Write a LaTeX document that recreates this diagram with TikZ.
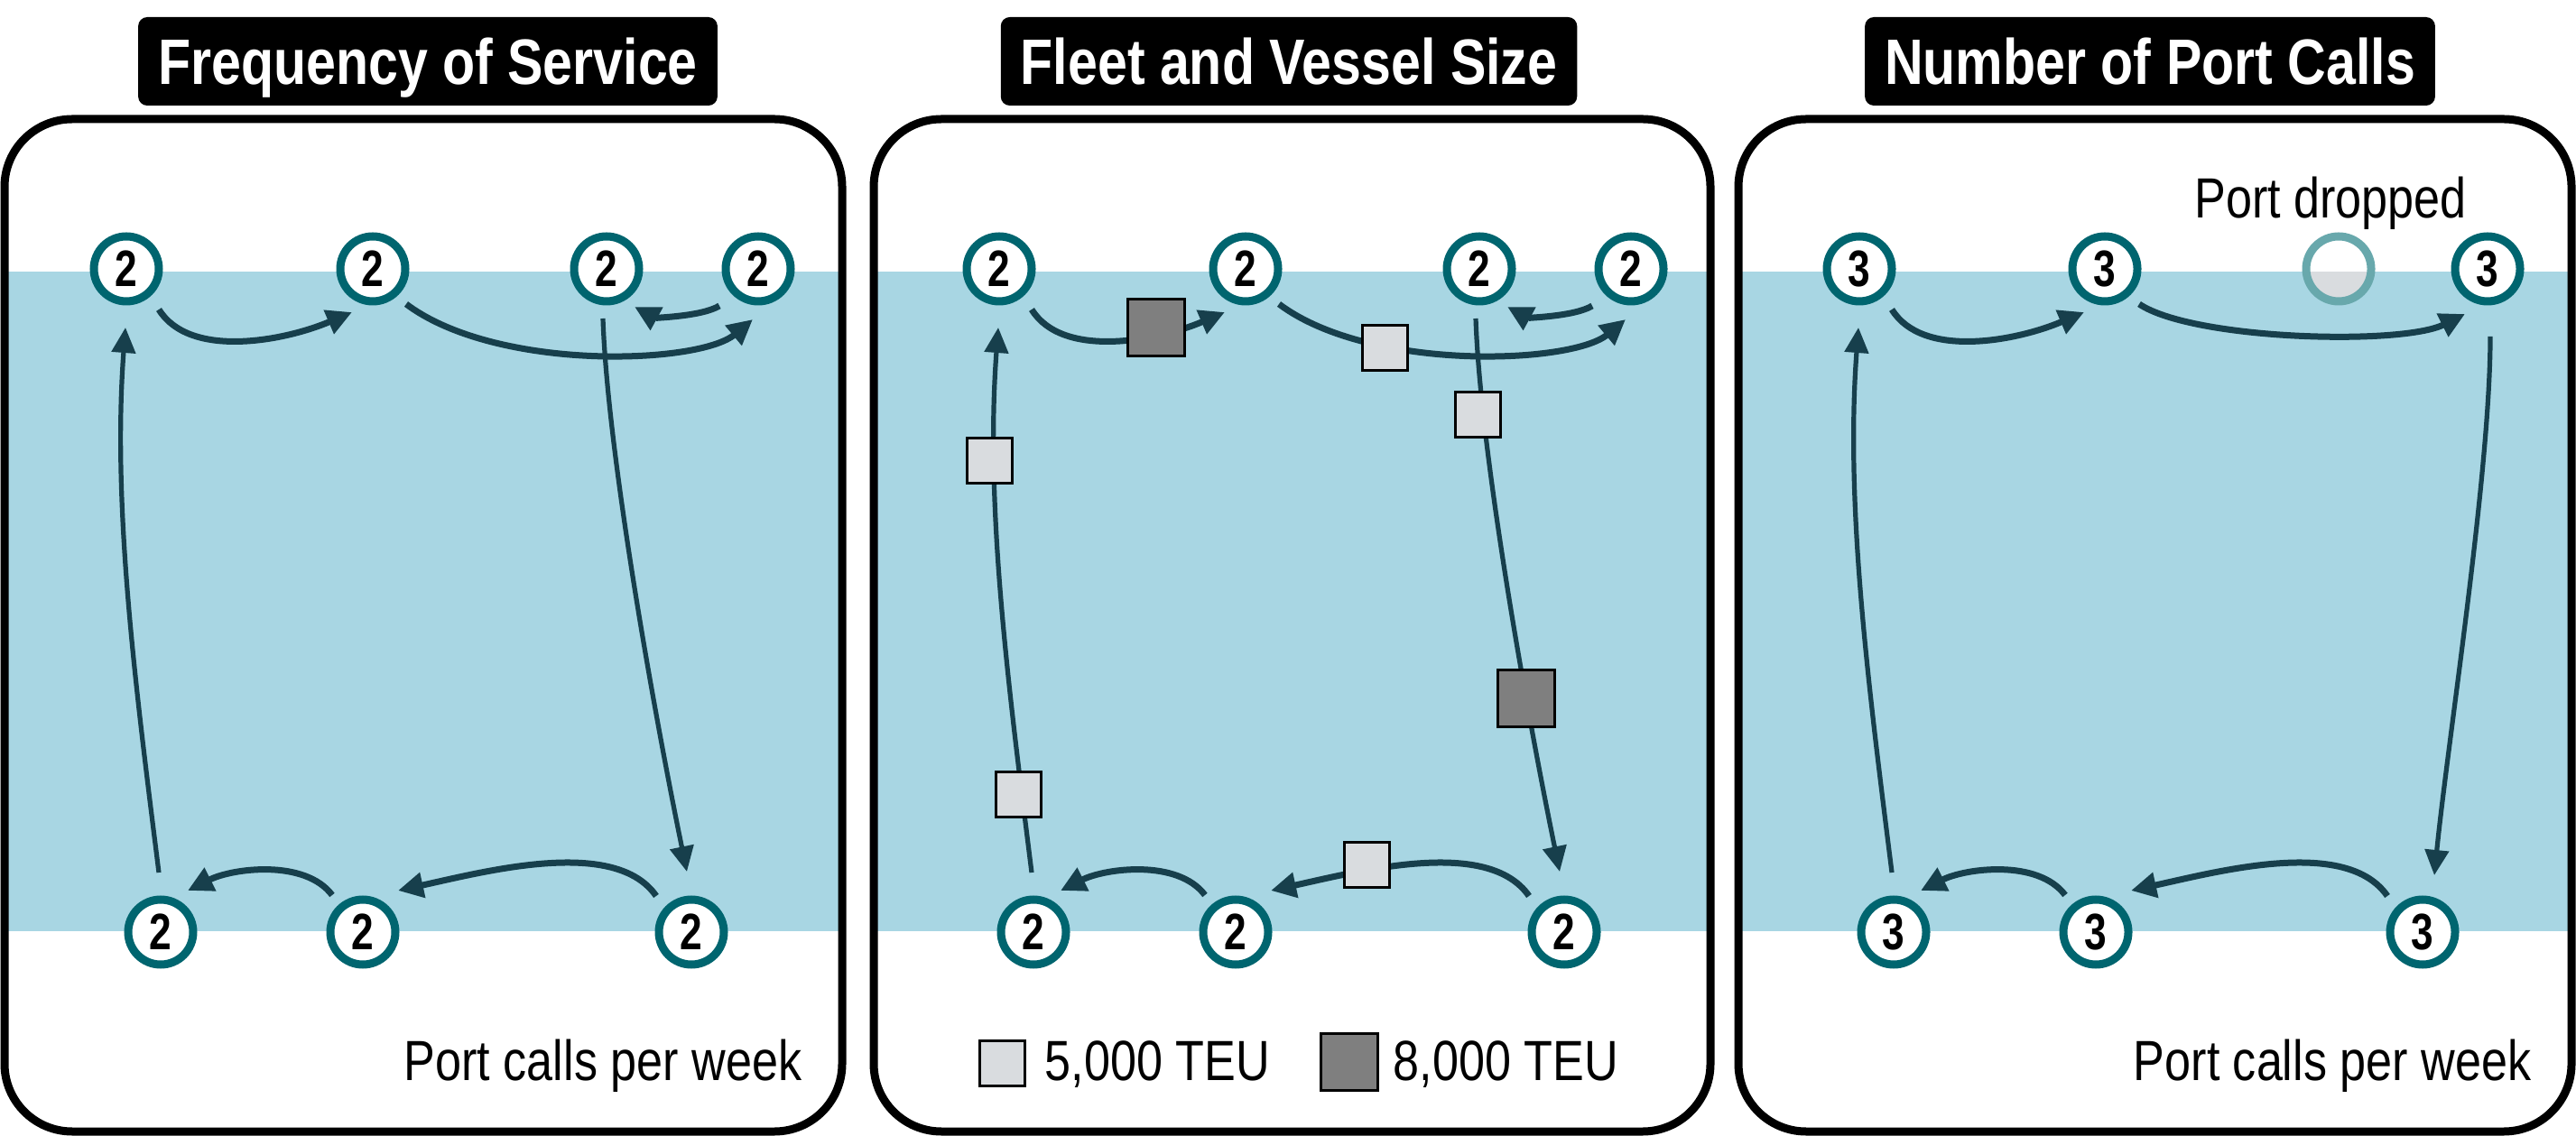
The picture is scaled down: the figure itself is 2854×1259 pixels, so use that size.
\documentclass[tikz,border=0pt]{standalone}
\usepackage{fontspec}
\setmainfont{Liberation Sans}[FakeStretch=0.83]
\newfontfamily\digitfont{Liberation Sans}[FakeStretch=0.78]
\usetikzlibrary{arrows.meta,calc}
\definecolor{band}{RGB}{168,214,227}
\definecolor{ring}{RGB}{0,101,111}
\definecolor{arrowc}{RGB}{23,63,76}
\definecolor{dropring}{RGB}{104,168,172}
\definecolor{lightsq}{RGB}{217,220,223}
\definecolor{darksq}{RGB}{127,127,127}
\begin{document}
\begin{tikzpicture}[x=0.25pt,y=-0.25pt,
  panel/.style={draw=black,line width=2.25pt,rounded corners=18.75pt},
  titlebox/.style={fill=black,text=white,rounded corners=2.5pt,font=\bfseries\fontsize{17.8}{20}\selectfont,minimum height=24.5pt,inner xsep=5.5pt,inner ysep=0pt,text height=12.75pt,text depth=0pt},
  port/.style={circle,draw=ring,line width=2.25pt,fill=white,minimum size=18pt,inner sep=0pt,font=\digitfont\bfseries\fontsize{14.2}{14}\selectfont},
  dropped/.style={circle,draw=dropring,line width=2.25pt,minimum size=18pt,inner sep=0pt},
  flow/.style={draw=arrowc,line width=1.75pt,-{Triangle[length=7pt,width=6.8pt]}},
  leg/.style={draw=arrowc,line width=1.3pt,-{Triangle[length=7pt,width=6.5pt]}},
  lbl/.style={font=\fontsize{15.7}{18}\selectfont,inner sep=0pt},
  sqlight/.style={draw=black,line width=0.75pt,fill=lightsq,minimum size=12.5pt,inner sep=0pt},
  sqdark/.style={draw=black,line width=0.75pt,fill=darksq,minimum size=15.75pt,inner sep=0pt},
]
\useasboundingbox (0,0) rectangle (2854,1259);
% panels
\foreach \L/\R in {5/933,968/1895,1926/2849}{
  \begin{scope}
    \clip[rounded corners=18.75pt] (\L,132) rectangle (\R,1254);
    \fill[band] (\L,301) rectangle (\R,1032);
  \end{scope}
  \draw[panel] (\L,132) rectangle (\R,1254);
}
% titles
\node[titlebox] (t1) at (474,68) {Frequency of Service};
\node[titlebox] (t2) at (1428,68) {Fleet and Vessel Size};
\node[titlebox] (t3) at (2382,68) {Number of Port Calls};

% ---------------- panel 1
\node[port] (p1t1) at (140,298) {2};
\node[port] (p1t2) at (413,298) {2};
\node[port] (p1t3) at (672,298) {2};
\node[port] (p1t4) at (840,298) {2};
\node[port] (p1b1) at (178,1033) {2};
\node[port] (p1b2) at (402,1033) {2};
\node[port] (p1b3) at (766,1033) {2};
\draw[flow] ($(p1t1)+(36,45)$) .. controls +(34,55) and +(-75,32) .. ($(p1t2)+(-23,48)$);
\draw[flow] ($(p1t2)+(37,39)$) .. controls +(100,75) and +(-60,50) .. ($(p1t4)+(-6,56)$);
\draw[flow] ($(p1t4)+(-43,41)$) .. controls +(-20,12) and +(22,12) .. ($(p1t3)+(31,42)$);
\draw[leg] ($(p1t3)+(-4,55)$) .. controls +(5,150) and +(-35,-170) .. ($(p1b3)+(-5,-67)$);
\draw[flow] ($(p1b3)+(-39,-40)$) .. controls +(-45,-65) and +(100,-22) .. ($(p1b2)+(39,-46)$);
\draw[flow] ($(p1b2)+(-34,-41)$) .. controls +(-30,-40) and +(50,-25) .. ($(p1b1)+(30,-46)$);
\draw[leg] ($(p1b1)+(-2,-66)$) .. controls +(-25,-200) and +(-15,200) .. ($(p1t1)+(-1,65)$);
\node[lbl,anchor=base east] (cap1) at (889,1197) {Port calls per week};

% ---------------- panel 2
\node[port] (p2t1) at (1107,298) {2};
\node[port] (p2t2) at (1380,298) {2};
\node[port] (p2t3) at (1639,298) {2};
\node[port] (p2t4) at (1807,298) {2};
\node[port] (p2b1) at (1145,1033) {2};
\node[port] (p2b2) at (1369,1033) {2};
\node[port] (p2b3) at (1733,1033) {2};
\draw[flow] ($(p2t1)+(36,45)$) .. controls +(34,55) and +(-75,32) .. ($(p2t2)+(-23,48)$);
\draw[flow] ($(p2t2)+(37,39)$) .. controls +(100,75) and +(-60,50) .. ($(p2t4)+(-6,56)$);
\draw[flow] ($(p2t4)+(-43,41)$) .. controls +(-20,12) and +(22,12) .. ($(p2t3)+(31,42)$);
\draw[leg] ($(p2t3)+(-4,55)$) .. controls +(5,150) and +(-35,-170) .. ($(p2b3)+(-5,-67)$);
\draw[flow] ($(p2b3)+(-39,-40)$) .. controls +(-45,-65) and +(100,-22) .. ($(p2b2)+(39,-46)$);
\draw[flow] ($(p2b2)+(-34,-41)$) .. controls +(-30,-40) and +(50,-25) .. ($(p2b1)+(30,-46)$);
\draw[leg] ($(p2b1)+(-2,-66)$) .. controls +(-25,-200) and +(-15,200) .. ($(p2t1)+(-1,65)$);
\node[sqdark] (s1) at (1281,363) {};
\node[sqlight] (s2) at (1534,386) {};
\node[sqlight] (s3) at (1637,460) {};
\node[sqlight] (s4) at (1096,511) {};
\node[sqlight] (s5) at (1128,880) {};
\node[sqdark] (s6) at (1691,774) {};
\node[sqlight] (s7) at (1514,958) {};
\node[sqlight] (lg1) at (1110,1178) {};
\node[lbl,anchor=base west] (lt1) at (1157,1197) {5,000 TEU};
\node[sqdark] (lg2) at (1495,1177) {};
\node[lbl,anchor=base west] (lt2) at (1543,1197) {8,000 TEU};

% ---------------- panel 3
\node[port] (p3t1) at (2060,298) {3};
\node[port] (p3t2) at (2332,298) {3};
\fill[white] (2591,298) circle[radius=36];
\begin{scope}
  \clip (2591,298) circle[radius=36];
  \fill[lightsq] (2540,301) rectangle (2640,345);
\end{scope}
\node[dropped] (p3t3) at (2591,298) {};
\node[port] (p3t4) at (2756,298) {3};
\node[port] (p3b1) at (2098,1033) {3};
\node[port] (p3b2) at (2322,1033) {3};
\node[port] (p3b3) at (2684,1033) {3};
\node[lbl,anchor=base] (pd) at (2582,242) {Port dropped};
\draw[flow] ($(p3t1)+(36,45)$) .. controls +(34,55) and +(-75,32) .. ($(p3t2)+(-23,48)$);
\draw[flow] ($(p3t2)+(38,39)$) .. controls +(60,40) and +(-70,35) .. ($(p3t4)+(-25,50)$);
\draw[leg] ($(p3t4)+(3,75)$) .. controls +(0,150) and +(15,-150) .. ($(p3b3)+(13,-63)$);
\draw[flow] ($(p3b3)+(-39,-40)$) .. controls +(-45,-65) and +(100,-22) .. ($(p3b2)+(39,-46)$);
\draw[flow] ($(p3b2)+(-34,-41)$) .. controls +(-30,-40) and +(50,-25) .. ($(p3b1)+(30,-46)$);
\draw[leg] ($(p3b1)+(-2,-66)$) .. controls +(-25,-200) and +(-15,200) .. ($(p3t1)+(-1,65)$);
\node[lbl,anchor=base east] (cap3) at (2805,1197) {Port calls per week};
\end{tikzpicture}
\end{document}
